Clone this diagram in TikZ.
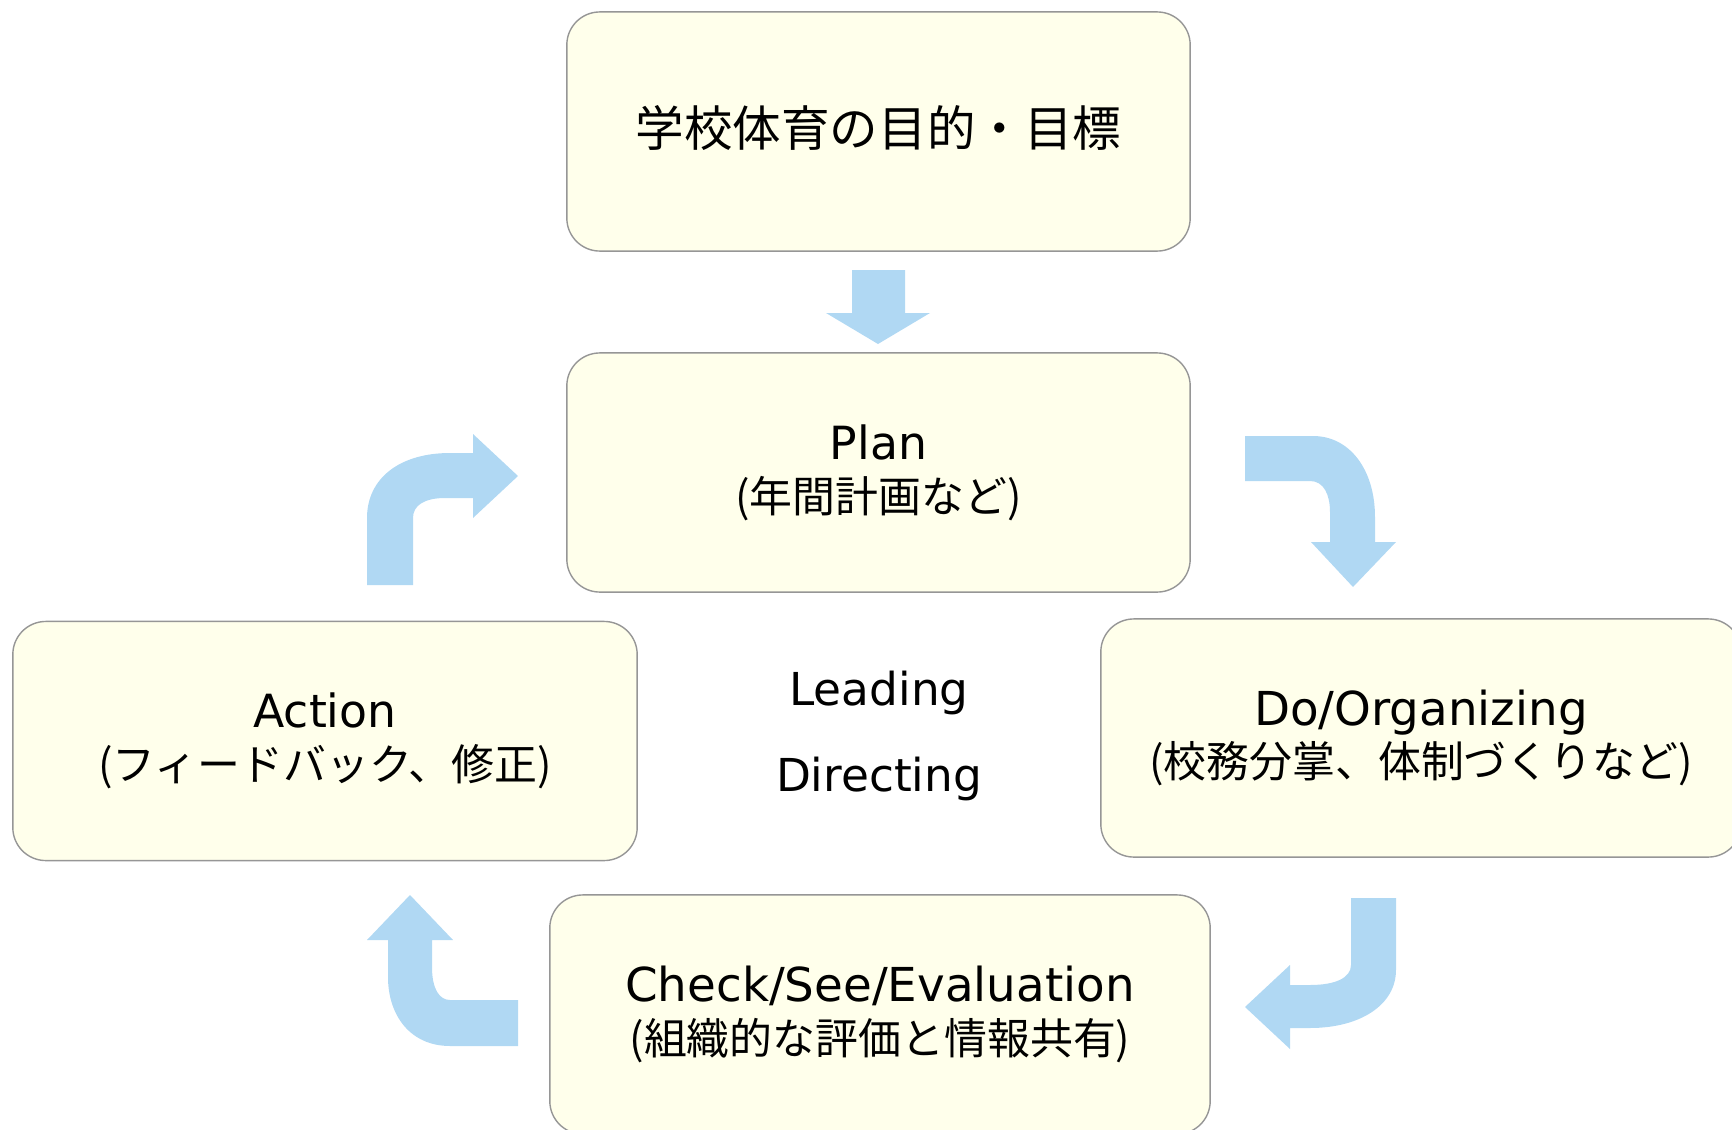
\documentclass[tikz,border=0pt]{standalone}
\usepackage{fontspec}
\setmainfont{DejaVu Sans}
\newfontfamily\cjk{Noto Sans CJK JP}
\definecolor{boxfill}{RGB}{255,255,235}
\definecolor{boxline}{RGB}{150,150,150}
\definecolor{flowblue}{RGB}{176,216,243}

\begin{document}
\begin{tikzpicture}[x=0.01cm,y=-0.01cm,
    box/.style={draw=boxline,fill=boxfill,line width=0.4pt,rounded corners=0.33cm,
        minimum height=2.39cm,inner sep=0pt,align=center,
        font=\fontsize{13}{15}\selectfont},
    flow/.style={fill=flowblue}]
    \useasboundingbox (0,0) rectangle (1732,1130);

    % boxes
    \node[box,minimum width=6.23cm] (goal) at (878.5,131.5)
        {\raisebox{3pt}{\cjk\fontsize{13.8}{16}\selectfont 学校体育の目的・目標}};
    \node[box,minimum width=6.23cm] (plan) at (878.5,472.5)
        {Plan\\{\cjk\fontsize{12.2}{15}\selectfont (年間計画など)}};
    \node[box,minimum width=6.40cm,minimum height=2.38cm,font=\fontsize{13.3}{15}\selectfont] (do) at (1421,738)
        {Do/Organizing\\{\cjk\fontsize{12.2}{15}\selectfont (校務分掌、体制づくりなど)}};
    \node[box,minimum width=6.60cm,font=\fontsize{13.3}{15}\selectfont] (check) at (880,1014.5)
        {Check/See/Evaluation\\{\cjk\fontsize{12.2}{15}\selectfont (組織的な評価と情報共有)}};
    \node[box,minimum width=6.24cm] (action) at (325,741)
        {Action\\{\cjk\fontsize{12.2}{15}\selectfont (フィードバック、修正)}};
    \node[align=center,font=\fontsize{12.9}{24.5}\selectfont] (lead) at (879,736)
        {Leading\\Directing};

    % goal -> plan
    \fill[flow] (852,270) -- (905,270) -- (905,313) -- (930,313) -- (878,344)
        -- (826,313) -- (852,313) -- cycle;
    % plan -> do
    \fill[flow] (1245,436) -- (1313,436) .. controls (1350,436) and (1375,470) .. (1375,517)
        -- (1375,542) -- (1396,542) -- (1353,587) -- (1311,542) -- (1330,542) -- (1330,512)
        .. controls (1330,495) and (1324,481) .. (1310,481) -- (1245,481) -- cycle;
    % do -> check
    \fill[flow] (1351,898) -- (1396,898) -- (1396,970) .. controls (1396,1005) and (1360,1028) .. (1310,1028)
        -- (1290,1028) -- (1290,1049) -- (1245,1007) -- (1290,965) -- (1290,985) -- (1310,985)
        .. controls (1335,985) and (1351,978) .. (1351,965) -- cycle;
    % check -> action
    \fill[flow] (518,1000) -- (518,1046) -- (450,1046) .. controls (410,1046) and (388,1015) .. (388,977)
        -- (388,940) -- (367,940) -- (410,895) -- (453,940) -- (432,940) -- (432,967)
        .. controls (432,990) and (440,1000) .. (450,1000) -- cycle;
    % action -> plan
    \fill[flow] (367,585) -- (367,518) .. controls (367,478) and (400,453) .. (450,453)
        -- (473,453) -- (473,434) -- (518,476) -- (473,518) -- (473,498) -- (445,498)
        .. controls (425,498) and (413,505) .. (413,518) -- (413,585) -- cycle;
\end{tikzpicture}
\end{document}
